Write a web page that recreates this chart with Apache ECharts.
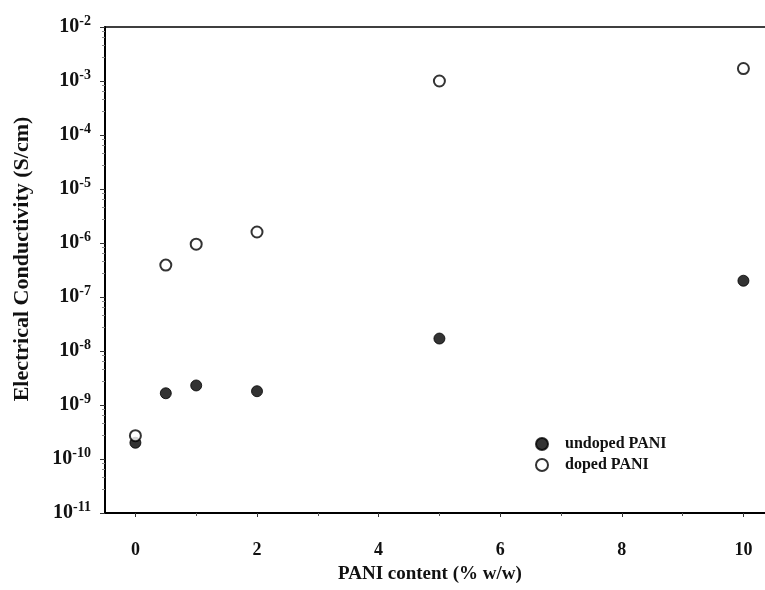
<!DOCTYPE html>
<html><head><meta charset="utf-8">
<script src="https://cdn.jsdelivr.net/npm/echarts@6/dist/echarts.min.js"></script>
<style>html,body{margin:0;padding:0;background:#fff}#c{width:765px;height:590px}</style>
</head><body><div id="c"></div>
<script>
var xValues = [0, 0.5, 1, 2, 5, 10];
var undoped = [2.0e-10, 1.65e-9, 2.3e-9, 1.8e-9, 1.7e-8, 2.0e-7];
var doped = [2.7e-10, 3.9e-7, 9.5e-7, 1.6e-6, 1.0e-3, 1.7e-3];
var xTickLabels = [0, 2, 4, 6, 8, 10];
var xMinorTicks = [1, 3, 5, 7, 9];
var seriesNames = ['undoped PANI', 'doped PANI'];
var yTitle = 'Electrical Conductivity (S/cm)';
var xTitle = 'PANI content (% w/w)';

var font = '"Liberation Serif","Times New Roman",serif';
var xMin = -0.5, xMax = 10.355; // the original frame continues past the picture's right edge
function pairs(ys){ return xValues.map(function(x,i){return [x, ys[i]];}); }

var chart = echarts.init(document.getElementById('c'));
chart.setOption({
  animation: false,
  backgroundColor: '#fff',
  grid: {left: 105, top: 27, right: 0, bottom: 77, show: false, containLabel: false},
  xAxis: [{
    type: 'value', min: xMin, max: xMax,
    axisLine: {show: true, onZero: false, lineStyle: {color: '#000', width: 2}},
    axisTick: {show: true, customValues: xTickLabels, length: 4, lineStyle: {color: '#333', width: 1}},
    axisLabel: {customValues: xTickLabels, color: '#111', fontFamily: font, fontWeight: 'bold', fontSize: 18, margin: 28},
    splitLine: {show: false}
  }, {
    type: 'value', min: xMin, max: xMax, position: 'bottom',
    axisLine: {show: false},
    axisTick: {show: true, customValues: xMinorTicks, length: 3, lineStyle: {color: '#555', width: 1}},
    axisLabel: {show: false},
    splitLine: {show: false}
  }, {
    type: 'value', min: xMin, max: xMax, position: 'top',
    axisLine: {show: true, onZero: false, lineStyle: {color: '#000', width: 1.5}},
    axisTick: {show: false}, axisLabel: {show: false}, splitLine: {show: false}
  }],
  yAxis: {
    type: 'log', logBase: 10, min: 1e-11, max: 1e-2,
    axisLine: {show: true, onZero: false, lineStyle: {color: '#000', width: 2}},
    axisTick: {show: true, length: 5, lineStyle: {color: '#333'}},
    minorTick: {show: true, splitNumber: 5, length: 3, lineStyle: {color: '#888'}},
    splitLine: {show: false},
    axisLabel: {
      margin: 14,
      formatter: function(v){ var e = Math.round(Math.log10(v)); return '{b|10}{s|' + e + '}'; },
      rich: {
        b: {fontFamily: font, fontWeight: 'bold', fontSize: 20, color: '#111'},
        s: {fontFamily: font, fontWeight: 'bold', fontSize: 14, color: '#111', padding: [0,0,11,0]}
      }
    }
  },
  legend: {
    orient: 'vertical', left: 530, top: 431, itemGap: 5, itemWidth: 12, itemHeight: 12,
    data: [
      {name: seriesNames[0], icon: 'circle'},
      {name: seriesNames[1], icon: 'circle'}
    ],
    textStyle: {fontFamily: font, fontWeight: 'bold', fontSize: 16, color: '#111', padding: [0,0,0,12]}
  },
  graphic: [{
    type: 'text', left: 338, top: 565,
    style: {text: xTitle, font: 'bold 19px ' + font, fill: '#111'}
  }, {
    type: 'text', x: 22, y: 259, rotation: Math.PI / 2,
    style: {text: yTitle, font: 'bold 22px ' + font, fill: '#111', align: 'center', verticalAlign: 'middle'}
  }],
  series: [{
    name: seriesNames[0], type: 'scatter', symbol: 'circle', symbolSize: 11,
    data: pairs(undoped),
    itemStyle: {color: '#000', borderColor: '#000', borderWidth: 1}
  }, {
    name: seriesNames[1], type: 'scatter', symbol: 'circle', symbolSize: 11,
    data: pairs(doped),
    itemStyle: {color: '#fff', borderColor: '#000', borderWidth: 2}
  }]
});
</script></body></html>
